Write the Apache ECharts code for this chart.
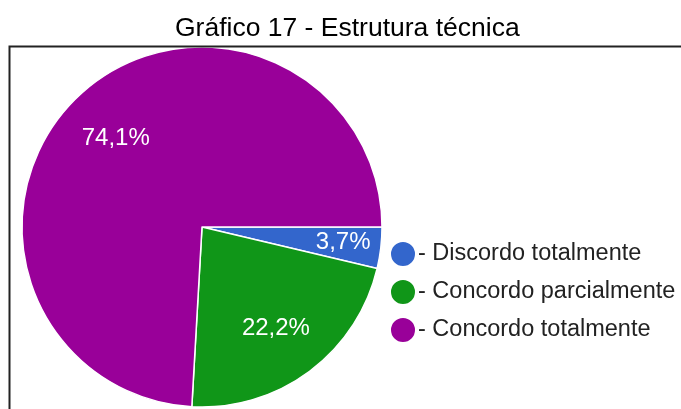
<!DOCTYPE html>
<html>
<head>
<meta charset="utf-8">
<script src="https://cdn.jsdelivr.net/npm/echarts@6/dist/echarts.min.js"></script>
<style>
  html, body { margin: 0; padding: 0; background: #fff; }
  #chart { width: 681px; height: 409px; }
</style>
</head>
<body>
<div id="chart"></div>
<script>
var categories = ['Discordo totalmente', 'Concordo parcialmente', 'Concordo totalmente']
var values = [3.7, 22.2, 74.1]
var colors = ['#3366cc', '#109618', '#990099']

var chart = echarts.init(document.getElementById('chart'))

var pieData = categories.map(function (name, i) {
  return { name: name, value: values[i], itemStyle: { color: colors[i] } }
})

function pct (p) {
  return p.value.toFixed(1).replace('.', ',') + '%'
}

chart.setOption({
  animation: false,
  title: {
    text: 'Gráfico 17 - Estrutura técnica',
    left: 170,
    top: 10,
    textStyle: {
      fontFamily: 'Liberation Sans, Arial, sans-serif',
      fontWeight: 'normal',
      fontSize: 26.5,
      color: '#000'
    }
  },
  graphic: [{
    type: 'rect',
    shape: { x: 9.5, y: 46.5, width: 700, height: 400 },
    style: { fill: 'none', stroke: '#222', lineWidth: 2 },
    z: 100
  }],
  legend: {
    orient: 'vertical',
    left: 384,
    top: 235,
    icon: 'circle',
    itemWidth: 26,
    itemHeight: 26,
    itemGap: 10,
    data: categories,
    formatter: function (name) { return '- ' + name },
    textStyle: {
      fontFamily: 'Liberation Sans, Arial, sans-serif',
      fontSize: 23.5,
      color: '#222',
      padding: [0, 0, 0, -3]
    }
  },
  series: [{
    type: 'pie',
    center: [202, 227],
    radius: [0, 180],
    startAngle: 0,
    clockwise: true,
    silent: true,
    data: pieData,
    itemStyle: { borderColor: '#fff', borderWidth: 1.5 },
    label: { show: false },
    labelLine: { show: false }
  }, {
    // invisible ring only used to place the percent labels further out
    type: 'pie',
    center: [202, 227],
    radius: [0, 248],
    startAngle: 0,
    clockwise: true,
    silent: true,
    z: 5,
    data: pieData.map(function (d, i) {
      var item = { name: d.name, value: d.value, itemStyle: { color: 'rgba(0,0,0,0)' } }
      if (i === 0) item.label = { offset: [15, 1] }
      if (i === 1) item.label = { offset: [-2, 0] }
      if (i === 2) item.label = { offset: [1, 4] }
      return item
    }),
    itemStyle: { borderWidth: 0 },
    label: {
      show: true,
      position: 'inside',
      formatter: pct,
      color: '#fff',
      fontSize: 24,
      fontFamily: 'Liberation Sans, Arial, sans-serif'
    },
    labelLine: { show: false }
  }]
})
</script>
</body>
</html>
